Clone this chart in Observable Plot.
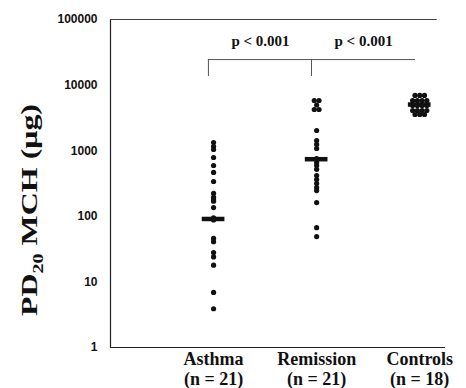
<!DOCTYPE html>
<html><head><meta charset="utf-8">
<script src="https://cdn.jsdelivr.net/npm/d3@7"></script>
<script src="https://cdn.jsdelivr.net/npm/@observablehq/plot@0.6"></script>
<style>html,body{margin:0;padding:0;background:#fff;overflow:hidden} #chart svg{display:block}</style>
</head><body><div id="chart"></div>
<script>
const groups = ["Asthma", "Remission", "Controls"];
const groupN = [21, 21, 18];
const asthma = [1334, 1159, 1043, 788, 595, 466, 339, 223, 194, 178, 170, 136, 95, 88, 46, 41, 28, 24, 18, 6.9, 3.9];
const remission = [5826, 5826, 4975, 4248, 4248, 2032, 1430, 1245, 1081, 760, 661, 595, 520, 419, 364, 316, 275, 247, 162, 67, 49];
const controls = [6950, 6950, 6950, 5826, 5826, 5826, 5826, 4886, 4886, 4886, 4886, 4100, 4100, 4100, 4100, 3565, 3565, 3565];
const medians = [91, 742, 5060];
const yTicks = [1, 10, 100, 1000, 10000, 100000];
const comparisons = [
  {from: "Asthma", to: "Remission", label: "p < 0.001"},
  {from: "Remission", to: "Controls", label: "p < 0.001"}
];

// horizontal spreading of identical values (computed, not typed)
function spread(values, step) {
  const counts = d3.rollup(values, v => v.length, d => d);
  const seen = new Map();
  return values.map(v => {
    const n = counts.get(v), k = seen.get(v) || 0;
    seen.set(v, k + 1);
    return (k - (n - 1) / 2) * step;
  });
}
const series = [asthma, remission, controls];
const points = series.flatMap((vals, i) => {
  const off = spread(vals, 0.046);
  return vals.map((v, j) => ({group: groups[i], x: i + 1 + off[j], value: v}));
});
const medianRows = groups.map((g, i) => ({group: g, x: i + 1, value: medians[i]}));
const idx = g => groups.indexOf(g) + 1;
const brackets = comparisons.map(c => ({x1: idx(c.from) - 0.05, x2: idx(c.to) - 0.04, label: c.label}));
const bracketTop = 24500, bracketLeg = 13500, labelY = 46000;

const serif = "'Liberation Serif', 'Times New Roman', serif";
const sans = "'Liberation Sans', Arial, sans-serif";

const chart = Plot.plot({
  width: 466, height: 388,
  marginLeft: 110, marginRight: 21, marginTop: 19, marginBottom: 41,
  style: {background: "#fff", color: "#111"},
  x: {type: "linear", domain: [0, 3.25], axis: null},
  y: {type: "log", domain: [1, 100000], axis: null},
  marks: [
    Plot.axisY({ticks: yTicks, tickFormat: d => String(d), tickSize: 0, tickPadding: 13,
      fontSize: 12, fontWeight: "bold", fontFamily: sans, label: null}),
    Plot.axisX({ticks: [1, 2, 3], tickFormat: i => `${groups[i - 1]}\n(n = ${groupN[i - 1]})`,
      tickSize: 0, tickPadding: 4, lineHeight: 1.08, fontSize: 18, fontWeight: "bold", fontFamily: serif, label: null}),
    Plot.ruleX([0], {y1: 1, y2: 100000, stroke: "#222", strokeWidth: 1.2}),
    Plot.ruleY([1], {x1: 0, x2: 3.25, stroke: "#222", strokeWidth: 1.2}),
    Plot.ruleY([100000], {x1: 0, x2: 3.17, stroke: "#444", strokeWidth: 1}),
    Plot.ruleY(brackets, {x1: "x1", x2: "x2", y: () => bracketTop, stroke: "#555", strokeWidth: 1}),
    Plot.ruleX(brackets, {x: "x1", y1: () => bracketTop, y2: () => bracketLeg, stroke: "#555", strokeWidth: 1}),
    Plot.text(brackets, {x: d => (d.x1 + d.x2) / 2, y: () => labelY, text: "label",
      fontSize: 15, fontWeight: "bold", fontFamily: serif, fill: "#111"}),
    Plot.dot(points, {x: "x", y: "value", r: 2.6, fill: "#111", stroke: "none"}),
    Plot.ruleY(medianRows, {x1: d => d.x - 0.11, x2: d => d.x + 0.11, y: "value", stroke: "#111", strokeWidth: 4.5})
  ]
});
document.getElementById("chart").appendChild(chart);

// y-axis title with subscript
const svg = d3.select(chart);
const t = svg.append("text")
  .attr("transform", "translate(37,210) rotate(-90)")
  .attr("text-anchor", "middle")
  .attr("font-family", serif)
  .attr("font-weight", "bold")
  .attr("font-size", 24)
  .attr("textLength", 212)
  .attr("lengthAdjust", "spacingAndGlyphs")
  .attr("fill", "#111");
t.append("tspan").text("PD");
t.append("tspan").attr("font-size", 15).attr("dy", 6).text("20");
t.append("tspan").attr("dy", -6).text(" MCH (μg)");
</script>
</body></html>
